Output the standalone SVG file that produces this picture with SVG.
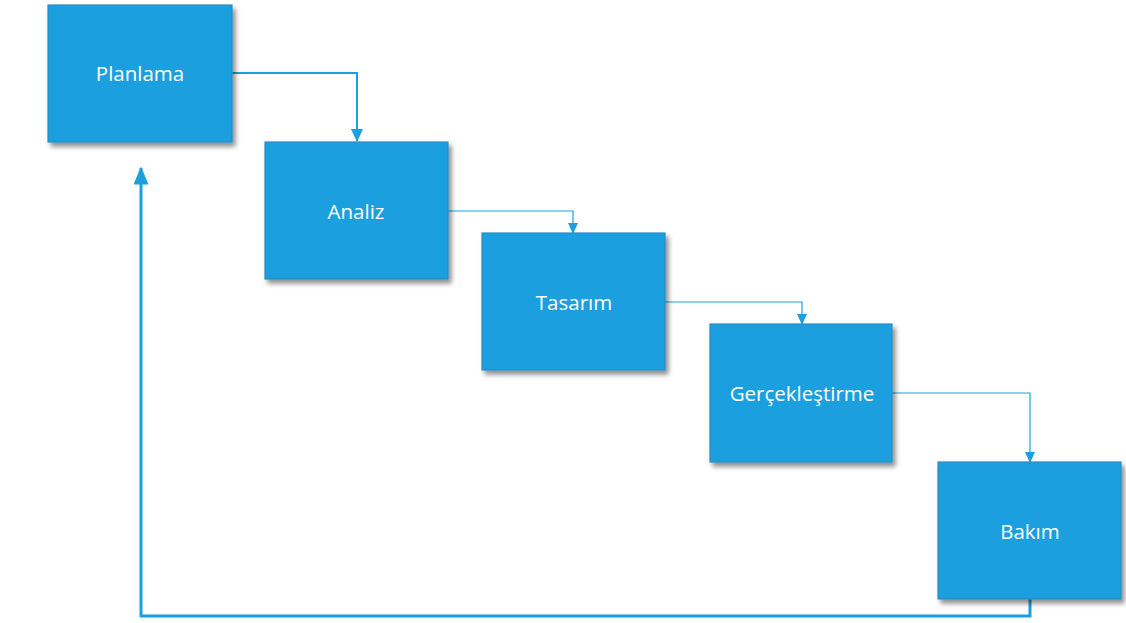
<svg xmlns="http://www.w3.org/2000/svg" width="1126" height="623" viewBox="0 0 1126 623">
<style>
.box{fill:#1d9fdf;stroke:#2b8cc4;stroke-width:1.2;filter:url(#sh)}
.lbl{font-family:"Open Sans","Noto Sans",sans-serif;font-size:20.5px;fill:#ffffff;text-anchor:middle;dominant-baseline:central}
.c{fill:none;stroke:#1d9fdf}
</style>
<defs>
<filter id="sh" x="-10%" y="-10%" width="125%" height="125%">
<feGaussianBlur in="SourceAlpha" stdDeviation="2.5"/>
<feOffset dx="3" dy="4" result="b"/>
<feComponentTransfer><feFuncA type="linear" slope="0.45"/></feComponentTransfer>
<feMerge><feMergeNode/><feMergeNode in="SourceGraphic"/></feMerge>
</filter>
<marker id="a1" markerWidth="6" markerHeight="5" refX="5.5" refY="2.5" orient="auto" markerUnits="strokeWidth"><path d="M0,0L6,2.5L0,5z" fill="#1d9fdf"/></marker>
<marker id="a2" markerWidth="11" markerHeight="10" refX="10" refY="5" orient="auto" markerUnits="userSpaceOnUse"><path d="M0,0L11,5L0,10z" fill="#1d9fdf"/></marker>
<marker id="a3" markerWidth="13" markerHeight="12" refX="12" refY="6" orient="auto" markerUnits="userSpaceOnUse"><path d="M0,0L13,6L0,12z" fill="#1d9fdf"/></marker>
</defs>
<g id="connectors">
<path class="c" stroke-width="2" d="M232,73H357V141" marker-end="url(#a3)"/>
<path class="c" stroke-width="1.2" d="M448,211H573V233" marker-end="url(#a2)"/>
<path class="c" stroke-width="1.2" d="M665,302H802V324" marker-end="url(#a2)"/>
<path class="c" stroke-width="1.2" d="M892,393H1030V462" marker-end="url(#a2)"/>
<path class="c" stroke-width="3" d="M1030,599V616H141V168" marker-end="url(#a1)"/>
</g>
<g id="planlama"><rect class="box" x="48" y="5" width="184" height="137"/><text class="lbl" x="140" y="73">Planlama</text></g>
<g id="analiz"><rect class="box" x="265" y="142" width="183" height="137"/><text class="lbl" x="356" y="211">Analiz</text></g>
<g id="tasarim"><rect class="box" x="482" y="233" width="183" height="137"/><text class="lbl" x="574" y="302">Tasarım</text></g>
<g id="gerceklestirme"><rect class="box" x="710" y="324" width="182" height="138"/><text class="lbl" x="802" y="393">Gerçekleştirme</text></g>
<g id="bakim"><rect class="box" x="938" y="462" width="183" height="137"/><text class="lbl" x="1030" y="531">Bakım</text></g>
</svg>
